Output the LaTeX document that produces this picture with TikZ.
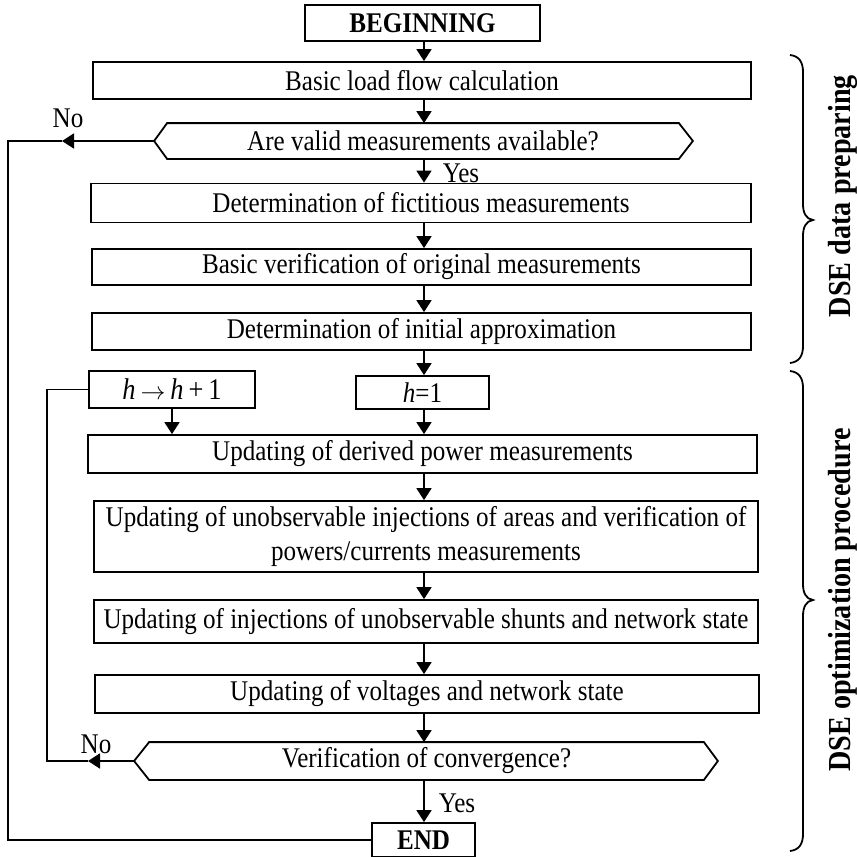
\documentclass[tikz,border=0pt]{standalone}
\usepackage{fontspec}
\setmainfont[FakeStretch=0.88]{Liberation Serif}
\usetikzlibrary{arrows.meta,calc}
\begin{document}
\begin{tikzpicture}[x=1pt,y=-1pt,
  line width=1.8pt,
  txt/.style={font=\fontsize{28.5}{34}\selectfont},
  box/.style={draw, rectangle, inner sep=0pt, align=center, txt},
  dec/.style={rectangle, inner sep=0pt, txt},
  lab/.style={inner sep=0pt, txt},
  side/.style={inner sep=0pt, rotate=90, font=\fontsize{32}{36}\selectfont\bfseries},
  arr/.style={-{Triangle[length=12pt,width=15pt]}}
]
\useasboundingbox (0,0) rectangle (857,857);
\coordinate (mx) at (424,0);
\coordinate (lx) at (8,0);
\coordinate (lx2) at (47,0);

% nodes
\node[box, minimum width=235pt, minimum height=36pt, font=\fontsize{28.5}{34}\selectfont\bfseries] (begin) at (422.5,23) {BEGINNING};
\node[box, minimum width=658pt, minimum height=37pt] (b1) at (422,80.5) {Basic load flow calculation};
\node[dec, minimum width=510pt, minimum height=34pt] (d1) at (423,141) {Are valid measurements available?};
\node[box, minimum width=660pt, minimum height=39pt] (b2) at (421,203) {Determination of fictitious measurements};
\node[box, minimum width=659pt, minimum height=36pt] (b3) at (421.5,267) {Basic verification of original measurements};
\node[box, minimum width=659pt, minimum height=37pt] (b4) at (421.5,331.5) {Determination of initial approximation};
\node[box, minimum width=166pt, minimum height=37pt, font=\fontsize{30}{34}\selectfont] (hinc) at (172,389.5) {\textit{h}\,$\rightarrow$\,\textit{h}\,+\,1};
\node[box, minimum width=133pt, minimum height=33pt] (hone) at (422.5,392.5) {\textit{h}=1};
\node[box, minimum width=669pt, minimum height=38pt] (b5) at (422.5,454) {Updating of derived power measurements};
\node[box, minimum width=664pt, minimum height=71pt] (b6) at (426,536.5) {Updating of unobservable injections of areas and verification of\\powers/currents measurements};
\node[box, minimum width=664pt, minimum height=43pt] (b7) at (426,621.5) {Updating of injections of unobservable shunts and network state};
\node[box, minimum width=664pt, minimum height=38pt] (b8) at (427,694) {Updating of voltages and network state};
\node[dec, minimum width=553pt, minimum height=36pt] (d2) at (426.5,761) {Verification of convergence?};
\node[box, minimum width=103pt, minimum height=34pt, font=\fontsize{28.5}{34}\selectfont\bfseries] (end) at (423.5,840) {END};

% decision outlines
\coordinate (d1l) at ($(d1.west)+(-13,0)$);
\coordinate (d1r) at ($(d1.east)+(14,0)$);
\draw (d1.north west) -- (d1.north east) -- (d1r) -- (d1.south east) -- (d1.south west) -- (d1l) -- cycle;
\coordinate (d2l) at ($(d2.west)+(-15,0)$);
\coordinate (d2r) at ($(d2.east)+(14,0)$);
\draw (d2.north west) -- (d2.north east) -- (d2r) -- (d2.south east) -- (d2.south west) -- (d2l) -- cycle;

% main flow
\draw[arr] (begin.south -| mx) -- (b1.north -| mx);
\draw[arr] (b1.south -| mx) -- (d1.north -| mx);
\draw[arr] (d1.south -| mx) -- (b2.north -| mx);
\draw[arr] (b2.south -| mx) -- (b3.north -| mx);
\draw[arr] (b3.south -| mx) -- (b4.north -| mx);
\draw[arr] (b4.south -| mx) -- (hone.north -| mx);
\draw[arr] (hone.south -| mx) -- (b5.north -| mx);
\draw[arr] (hinc.south) -- (b5.north -| hinc.south);
\draw[arr] (b5.south -| mx) -- (b6.north -| mx);
\draw[arr] (b6.south -| mx) -- (b7.north -| mx);
\draw[arr] (b7.south -| mx) -- (b8.north -| mx);
\draw[arr] (b8.south -| mx) -- (d2.north -| mx);
\draw[arr] (d2.south -| mx) -- (end.north -| mx);

% No branches
\coordinate (n1) at (62,141);
\draw[arr] (d1l) -- (n1);
\draw (n1) -- (n1 -| lx) |- (end.west);
\coordinate (n2) at (88,761);
\draw[arr] (d2l) -- (n2);
\draw (n2) -- (n2 -| lx2) |- (hinc.west);

% labels
\node[lab] (no1) at (68,118) {No};
\node[lab] (no2) at (96,744) {No};
\node[lab] (yes1) at (461,173) {Yes};
\node[lab] (yes2) at (457,803) {Yes};

% braces
\draw (790,55) .. controls (799,56) and (803,62) .. (803,72) -- (803,204)
  .. controls (803,213) and (806,219) .. (813,220)
  .. controls (806,221) and (803,227) .. (803,236) -- (803,346)
  .. controls (803,356) and (799,362) .. (790,363);
\draw (790,371) .. controls (799,372) and (803,378) .. (803,388) -- (803,584)
  .. controls (803,593) and (806,599) .. (813,600)
  .. controls (806,601) and (803,607) .. (803,616) -- (803,834)
  .. controls (803,844) and (799,850) .. (790,851);

\node[side] (s1) at (843,196) {DSE data preparing};
\node[side] (s2) at (843,600) {DSE optimization procedure};
\end{tikzpicture}
\end{document}
